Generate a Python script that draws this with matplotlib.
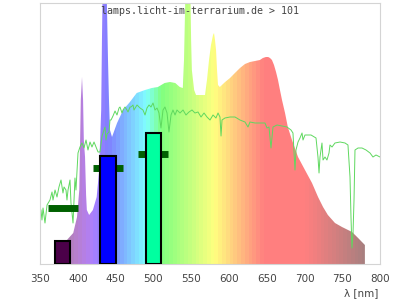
import numpy as np
import matplotlib
matplotlib.use("Agg")
from matplotlib import pyplot as plt

# lamp spectrum (nm, relative height)
spec_nm = [380, 388, 394, 399, 402, 403, 404, 405.6, 407, 408, 409.6, 411, 412, 415, 420,
           425, 428, 431, 432, 433.4, 437.4, 438.7, 440, 441.3, 442.6, 445.3, 452, 460,
           469, 478, 489, 498, 506, 515, 522, 529, 535, 539, 540.6, 542, 543, 548.5, 550,
           551, 554, 556.5, 568.4, 571, 573.7, 576.3, 579, 580.3, 581.6, 583, 584.3, 585.6,
           588, 595, 601.5, 608, 614.7, 621.3, 628, 634.6, 641, 645, 649, 652, 654.4, 657,
           659.7, 662.4, 665, 667.6, 670.3, 674.3, 678, 683.5, 691.5, 700.7, 710, 718,
           724.6, 731, 740.4, 749.7, 763, 771, 780]
spec_val = [19, 26, 31, 47, 74, 119, 164, 187, 164, 124, 107, 69, 54, 49, 54,
            67, 91, 154, 224, 300, 300, 254, 204, 164, 134, 127, 141, 154,
            162, 171, 174, 176, 177, 181, 182, 181, 177, 176, 204, 254, 300, 300, 224,
            194, 174, 169, 169, 184, 204, 219, 229, 231, 224, 214, 194, 179,
            177, 182, 186, 191, 196, 200, 202, 203, 204, 206, 207, 207, 206, 204,
            199, 192, 184, 174, 164, 151, 137, 124, 107, 94, 81, 67,
            57, 49, 41, 37, 32, 26, 19]

# reference sunlight curve
sun_nm = [351.3, 352.6, 354.0, 356.6, 359.3, 363.2, 365.9, 367.2, 369.9, 372.5, 375.1,
          377.8, 380.4, 381.8, 384.4, 385.7, 387.1, 389.7, 391.0, 393.7, 395.0, 396.3,
          397.6, 399.0, 400.3, 402.9, 405.6, 408.2, 410.9, 413.5, 416.2, 418.8, 421.5,
          424.1, 426.8, 429.4, 432.1, 434.7, 436.0, 437.4, 438.7, 441.3, 442.6, 444.0,
          446.6, 449.3, 451.9, 454.6, 455.9, 458.5, 459.9, 462.5, 465.1, 466.5, 469.1,
          470.5, 473.1, 474.4, 478.4, 482.4, 486.3, 489.0, 491.6, 494.3, 496.9, 499.6,
          502.2, 504.9, 507.5, 510.1, 512.8, 515.4, 518.1, 520.7, 523.4, 526.0, 528.7,
          531.3, 535.3, 539.3, 543.2, 547.2, 551.2, 555.1, 559.1, 563.1, 567.1, 571.0,
          575.0, 579.0, 582.9, 585.6, 588.2, 589.6, 590.9, 594.8, 601.5, 608.1, 614.7,
          621.3, 625.3, 627.9, 634.6, 641.2, 647.8, 650.4, 653.1, 655.7, 658.4, 663.7,
          670.3, 676.9, 682.2, 684.8, 687.5, 688.8, 691.5, 694.1, 696.8, 698.1, 700.7,
          704.7, 708.7, 715.3, 717.9, 719.3, 720.6, 723.2, 724.6, 727.2, 729.8, 732.5,
          733.8, 736.5, 740.4, 747.1, 753.7, 757.6, 760.3, 761.6, 762.9, 764.3, 765.6,
          766.9, 770.9, 776.2, 781.5, 786.8, 790.7, 794.7, 800.0]
sun_val = [54, 44, 56, 41, 59, 64, 72, 64, 74, 67, 77,
           84, 71, 77, 74, 64, 74, 84, 61, 41, 64, 86,
           74, 94, 111, 117, 121, 116, 124, 114, 122, 117, 122,
           117, 112, 112, 128, 134, 137, 124, 130, 132, 144, 144,
           148, 153, 149, 156, 157, 151, 154, 157, 154, 152, 157,
           157, 159, 154, 159, 156, 154, 149, 156, 159, 157, 161,
           154, 156, 151, 136, 154, 157, 151, 132, 149, 154, 149,
           154, 151, 154, 149, 152, 154, 151, 152, 147, 151, 147,
           144, 149, 146, 151, 147, 128, 144, 146, 147, 147, 144,
           142, 137, 142, 141, 141, 141, 136, 137, 116, 137, 139,
           138, 137, 134, 131, 94, 114, 122, 126, 131, 124, 129,
           129, 129, 126, 107, 91, 107, 121, 104, 107, 104, 111,
           119, 117, 121, 122, 121, 119, 87, 47, 16, 31, 64,
           114, 116, 116, 114, 111, 107, 109, 107]

# LED bars and receptor markers
bar_nm = [380, 440, 500]
bar_val = [23, 108, 131]
bar_colors = ["#4b0049", "#0000ff", "#00ffa0"]
mark_val = [56, 96, 110]

xticks = [350, 400, 450, 500, 550, 600, 650, 700, 750, 800]


def wl_color(w):
    if w < 440:
        r, g, b = (440 - w) / 60, 0, 1
    elif w < 490:
        r, g, b = 0, (w - 440) / 50, 1
    elif w < 510:
        r, g, b = 0, 1, (510 - w) / 20
    elif w < 580:
        r, g, b = (w - 510) / 70, 1, 0
    elif w < 645:
        r, g, b = 1, (645 - w) / 65, 0
    else:
        r, g, b = 1, 0, 0
    if w < 420:
        f = 0.3 + 0.7 * (w - 380) / 40
    elif w > 700:
        f = 0.3 + 0.7 * (780 - w) / 80
    else:
        f = 1
    return [0.5 + 0.5 * r * f, 0.5 + 0.5 * g * f, 0.5 + 0.5 * b * f]


fig = plt.figure(figsize=(4, 3), dpi=100)
ax = fig.add_axes([0.1, 0.12, 0.85, 0.87])

poly = ax.fill_between(spec_nm, spec_val, color="none", lw=0)
bands = np.arange(380, 780, 5) + 2.5
grad = np.array([[wl_color(w) for w in bands]])
im = ax.imshow(grad, extent=[380, 780, 0, 300], aspect="auto",
               interpolation="nearest", zorder=1)
im.set_clip_path(poly.get_paths()[0], transform=ax.transData)

ax.plot(sun_nm, sun_val, color="#5fd85f", lw=0.7, zorder=2)
ax.hlines(mark_val, [w - 20 for w in bar_nm], [w + 20 for w in bar_nm],
          color="#006000", lw=5, zorder=3)
ax.bar(bar_nm, bar_val, width=20, color=bar_colors, edgecolor="black",
       linewidth=1.5, zorder=4)

ax.set_xlim(350, 800)
ax.set_ylim(0, 261)
ax.set_xticks(xticks)
ax.set_yticks([])
ax.tick_params(axis="x", length=0, pad=7, labelsize=7.5, labelcolor="#444444")
for sp in ax.spines.values():
    sp.set_color("#d4d4d4")
    sp.set_linewidth(0.8)

fig.text(0.5, (300 - 11) / 300, "lamps.licht-im-terrarium.de > 101",
         family="DejaVu Sans Mono", fontsize=7.2, color="#444444",
         ha="center", va="center")
fig.text(361 / 400, 2 / 300, "λ [nm]", fontsize=7.5, color="#444444",
         ha="center", va="bottom")

fig.savefig("out.png", dpi=100)
